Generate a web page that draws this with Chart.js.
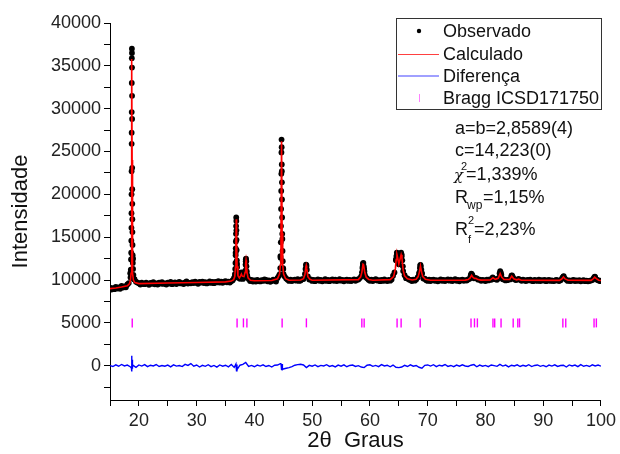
<!DOCTYPE html>
<html>
<head>
<meta charset="utf-8">
<script src="https://cdn.jsdelivr.net/npm/chart.js@4.4.1/dist/chart.umd.min.js"></script>
<style>
  html, body { margin: 0; padding: 0; background: #fff; }
  #wrap { width: 620px; height: 454px; }
</style>
</head>
<body>
<div id="wrap"><canvas id="chart" width="620" height="454"></canvas></div>
<script>
const obsStart = 15, obsStep = 0.25;
const obsCounts = [
  9120, 8890, 9060, 8930, 9210, 9010, 9150, 8980, 9330, 9120, 9260, 9150, 9480, 9650, 10800, 27200, 12500, 10100, 9800, 9700,
  9640, 9480, 9700, 9530, 9520, 9710, 9590, 9450, 9680, 9560, 9750, 9500, 9610, 9470, 9690, 9580, 9740, 9550, 9620, 9480,
  9700, 9590, 9780, 9520, 9610, 9730, 9540, 9690, 9780, 9600, 9650, 9530, 9720, 9850, 9590, 9660, 9620, 9760, 9650, 9800,
  9680, 9560, 9790, 9700, 9810, 9650, 9740, 9600, 9700, 9830, 9660, 9780, 9640, 9790, 9720, 9860, 9700, 9820, 9680, 9800,
  9880, 9730, 9810, 9700, 9850, 9990, 10250, 13200, 11870, 10260, 10150, 10880, 10130, 10290, 12190, 10530, 10120, 9880, 10010, 9830,
  9960, 9820, 10030, 9870, 9840, 9990, 9900, 10080, 10010, 9850, 9960, 9790, 9880, 10050, 9940, 9820, 10250, 10500, 12800, 22700,
  11300, 10400, 10180, 10020, 9900, 10040, 9880, 9990, 10060, 9930, 10100, 9900, 9960, 10100, 10110, 10720, 11590, 10420, 10050, 10080,
  9900, 10030, 9870, 9990, 10080, 9920, 10010, 9860, 9940, 10090, 9900, 10020, 9870, 9980, 10070, 9910, 10040, 9890, 9960, 10100,
  9930, 10020, 9850, 9990, 10060, 9900, 10010, 9880, 9970, 10080, 9920, 10040, 10060, 10230, 10450, 11600, 11300, 10350, 10200, 10030,
  9920, 10050, 9890, 10010, 10090, 9940, 9980, 9870, 10020, 9900, 10070, 9950, 9880, 10010, 9930, 10060, 10510, 10880, 12420, 12810,
  11840, 12500, 12790, 11050, 10560, 10220, 10190, 10060, 10010, 9880, 10040, 9930, 10060, 10300, 10680, 11780, 10760, 10180, 10150, 9990,
  9900, 10040, 9880, 10010, 10060, 9910, 9990, 9860, 9950, 10080, 9920, 10030, 9890, 10000, 10070, 9930, 10040, 9880, 9970, 10090,
  9920, 10020, 9860, 9990, 10050, 9910, 10000, 9940, 10070, 10160, 10560, 10480, 10200, 10240, 10180, 10040, 10060, 9920, 10010, 9950,
  9890, 10040, 9960, 10080, 10030, 10300, 10120, 10080, 10020, 10220, 10700, 10620, 10100, 10040, 9960, 9990, 10060, 10070, 10420, 10290,
  10090, 10000, 10050, 10120, 10020, 9910, 10040, 9960, 9880, 10010, 9950, 10050, 9930, 9870, 10020, 9960, 9900, 10040, 9890, 9980,
  9940, 10010, 9870, 9960, 10030, 9900, 9950, 9880, 9920, 10020, 9960, 9890, 9990, 10180, 10400, 10170, 10020, 9900, 9960, 9890,
  9950, 10030, 9880, 9960, 9910, 9990, 9860, 9940, 10000, 9870, 9930, 9850, 9900, 9960, 10000, 10230, 10300, 10050, 9980, 9880,
  9920
];

// extra observed points along the peak flanks
const peakTheta = [
  18.55, 18.60, 18.64, 18.67, 18.69, 18.71, 18.72, 18.73, 18.74, 18.75, 18.76, 18.77, 18.78, 18.79, 18.80,
  18.81, 18.82, 18.83, 18.84, 18.85, 18.86, 18.87, 18.88, 18.90, 18.92, 18.95, 18.99, 19.05, 19.12,
  36.55, 36.62, 36.68, 36.72, 36.75, 36.77, 36.79, 36.81, 36.83, 36.85, 36.87, 36.89, 36.91, 36.93, 36.96, 37.00, 37.06, 37.12,
  37.65, 37.80, 37.90, 38.35, 38.42, 38.47, 38.51, 38.55, 38.59, 38.63, 38.68, 38.75,
  44.40, 44.48, 44.53, 44.57, 44.60, 44.62, 44.64, 44.66, 44.68, 44.70, 44.72, 44.74, 44.76, 44.78, 44.80,
  44.82, 44.84, 44.87, 44.91, 44.96, 45.05,
  48.85, 48.93, 49.00, 49.08,
  58.62, 58.70, 58.78, 58.86, 58.94, 59.05, 59.12,
  64.50, 64.58, 64.66, 64.74, 64.85, 64.95, 65.10, 65.22, 65.32, 65.40, 65.48, 65.60, 65.70,
  68.55, 68.65, 68.72, 68.80, 68.90, 69.00,
  77.45, 77.55, 77.65, 77.75, 82.45, 82.55, 82.65, 84.50, 84.60, 84.70, 93.40, 93.55, 98.85, 98.95
];
const peakCounts = [
  10300, 11200, 12400, 13200, 14600, 16100, 17800, 20000, 22700, 25900, 29600, 33000, 35900, 37000, 36500,
  34800, 31500, 28800, 23100, 20600, 18900, 17100, 15600, 14100, 12900, 12000, 11300, 10600, 10100,
  10300, 10700, 11300, 12000, 12900, 13700, 14500, 15400, 16300, 17300, 16900, 15800, 14700, 13500, 12300, 11500, 10900, 10500,
  10500, 10800, 10600, 10500, 11100, 11800, 12400, 12500, 12200, 11600, 11000, 10500,
  10700, 11400, 12600, 14400, 16300, 18300, 20400, 22400, 24900, 26400, 25500, 23500, 21400, 19400, 17300,
  15400, 14800, 13400, 12200, 11400, 10700,
  11300, 11800, 11750, 11200,
  10900, 11400, 11900, 12000, 11600, 11000, 10600,
  12300, 12800, 13200, 13100, 12500, 12100, 12200, 12700, 13100, 13200, 13000, 12300, 11600,
  10900, 11400, 11700, 11600, 11200, 10800,
  10550, 10750, 10700, 10500, 10800, 11050, 10900, 10500, 10550, 10400, 10350, 10450, 10350, 10400
];

// calculated profile (red line)
const calcTheta = [
  15, 16, 17, 18, 18.4, 18.55, 18.65, 18.7, 18.74, 18.77, 18.8, 18.83, 18.86, 18.9, 18.95, 19.05, 19.3,
  20, 25, 30, 35,
  36, 36.4, 36.6, 36.72, 36.8, 36.86, 36.92, 37.0, 37.15, 37.4, 37.6, 37.75, 37.9, 38.2, 38.38, 38.48, 38.55, 38.62, 38.72, 38.9, 39.3,
  40, 43, 44, 44.35, 44.5, 44.6, 44.7, 44.8, 44.9, 45.05, 45.4, 46,
  48, 48.5, 48.75, 48.9, 48.97, 49.05, 49.25, 49.6, 50,
  58, 58.4, 58.6, 58.8, 58.9, 59.1, 59.35, 59.8, 60.5,
  63.5, 64.1, 64.4, 64.55, 64.68, 64.8, 65.0, 65.2, 65.4, 65.55, 65.75, 66.0, 66.5, 67.3,
  68.0, 68.35, 68.55, 68.75, 68.95, 69.15, 69.6, 70.5,
  76.5, 77.0, 77.35, 77.6, 77.85, 78.1, 78.35, 78.6, 79.2,
  80.8, 81.3, 81.7, 82.2, 82.55, 82.8, 83.2, 84.2, 84.55, 84.9, 85.4, 85.75, 86.2,
  92.8, 93.2, 93.5, 93.8, 94.3, 98.3, 98.7, 98.9, 99.2, 99.6, 100
];
const calcCounts = [
  9000, 9080, 9180, 9330, 9600, 10000, 10800, 12000, 16000, 24000, 35800, 24000, 16000, 12000, 10800, 10000, 9700,
  9580, 9650, 9720, 9790,
  9880, 10050, 10400, 11500, 14500, 17100, 14500, 11600, 10500, 10250, 10500, 10700, 10450, 10400, 10900, 11900, 12300, 11900, 10900, 10250, 9980,
  9920, 9940, 10150, 10700, 11800, 15500, 26200, 15500, 11800, 10700, 10150, 9980,
  10000, 10150, 10650, 11500, 11700, 11400, 10400, 10080, 9980,
  10050, 10380, 10900, 11850, 11800, 10900, 10330, 10060, 9980,
  10050, 10400, 11300, 12400, 12950, 12600, 11850, 12400, 12950, 12500, 11150, 10480, 10150, 10000,
  10100, 10400, 10900, 11650, 10900, 10400, 10080, 9970,
  9990, 10060, 10250, 10550, 10300, 10180, 10210, 10100, 9990,
  10000, 10260, 10080, 10200, 10750, 10350, 10060, 10070, 10450, 10150, 10030, 10100, 9980,
  9960, 10120, 10360, 10130, 9970, 9960, 10180, 10330, 10160, 9980, 9950
];

// difference (obs - calc) on a 0.5 deg grid, plus the spikes at the strong peaks
const diffStart = 15, diffStep = 0.5;
const diffCounts = [
  20, -90, 110, -60, 150, -30, 80, -120, 40, -180,
  90, -40, 130, -110, 60, -20, 140, -90, 30, -60,
  70, -130, 100, -40, 20, -100, 160, 40, 250, -60,
  80, -150, 50, -70, 120, -110, 30, -160, 90, -50,
  60, -130, 140, -200, -450, 60, 150, 380, -80, 40,
  -120, 70, -40, 110, -90, 30, -150, 60, 80, 250,
  -380, -300, -220, -100, 60, 130, 170, 90, -220, 40,
  -60, 90, -110, 40, -30, 120, -80, 20, -140, 70,
  -50, 100, -120, 30, 80, -90, 10, -150, -220, 60,
  110, -70, 40, -100, 130, -30, 60, -120, 80, -180,
  -220, -150, 40, -90, 110, -60, 30, -180, -280, 50,
  90, -40, 120, -100, 60, -20, 140, -80, 30, -110,
  70, -60, 100, -30, -90, 60, 130, -120, 80, -50,
  40, -110, 90, 10, -70, 150, -40, 80, -130, 60,
  -20, 110, -90, 50, -60, 120, -100, 30, 90, -70,
  40, -120, 80, -40, 110, -80, 20, 60, -150, 90,
  -30, 70, -110, 130, -60, 40, -90, 100, -20, 80,
  -50
];
const diffSpikeTheta = [18.70, 18.74, 18.77, 18.80, 18.83, 18.86, 18.92, 36.80, 36.90, 36.98, 44.60, 44.70, 44.78, 44.85];
const diffSpikeCounts = [-250, 600, 1170, -660, 700, -350, 150, 200, -600, 150, 280, -500, 200, -450];

// Bragg reflections (ICSD 171750)
const braggTheta = [18.85, 37.0, 38.1, 38.7, 44.8, 49.0, 58.6, 59.0, 64.7, 65.4, 68.7, 77.5, 78.1, 78.6,
  81.3, 81.6, 82.7, 84.8, 85.6, 85.9, 93.4, 93.9, 98.8, 99.2];
const braggLevel = 5000;

const seriesNames = ['Observado', 'Calculado', 'Diferença', 'Bragg ICSD171750'];
const fitNotes = ['a=b=2,8589(4)', 'c=14,223(0)', '=1,339%', '=1,15%', '=2,23%'];

// axis ticks: every 2500 on y (labels every 5000), every 5 on x (labels every 10)
const yTickValues = [-2500, 0, 2500, 5000, 7500, 10000, 12500, 15000, 17500, 20000,
  22500, 25000, 27500, 30000, 32500, 35000, 37500, 40000];
const xTickValues = [15, 20, 25, 30, 35, 40, 45, 50, 55, 60, 65, 70, 75, 80, 85, 90, 95, 100];

const FONT = '"Liberation Sans", Arial, sans-serif';

function gridPoints(start, step, values) {
  return values.map((y, i) => ({ x: +(start + i * step).toFixed(2), y }));
}
function pairPoints(xs, ys) {
  return xs.map((x, i) => ({ x, y: ys[i] }));
}
const byX = (a, b) => a.x - b.x;

const obsData = gridPoints(obsStart, obsStep, obsCounts).concat(pairPoints(peakTheta, peakCounts));
const calcData = pairPoints(calcTheta, calcCounts);
const diffData = gridPoints(diffStart, diffStep, diffCounts).concat(pairPoints(diffSpikeTheta, diffSpikeCounts)).sort(byX);
const braggData = braggTheta.map(x => ({ x, y: braggLevel }));

// legend box + refinement notes, drawn inside the plot
const notesPlugin = {
  id: 'notes',
  afterDraw(chart) {
    const ctx = chart.ctx;
    ctx.save();
    ctx.strokeStyle = '#333';
    ctx.lineWidth = 1;
    ctx.strokeRect(396.5, 18.5, 205, 91);

    const rows = [31, 54, 76, 98];
    // Observado: dot
    ctx.fillStyle = '#000';
    ctx.beginPath(); ctx.arc(419, rows[0], 2.2, 0, Math.PI * 2); ctx.fill();
    // Calculado: red line
    ctx.strokeStyle = '#ff4040'; ctx.lineWidth = 1;
    ctx.beginPath(); ctx.moveTo(398, rows[1] + 0.5); ctx.lineTo(439, rows[1] + 0.5); ctx.stroke();
    // Diferença: blue line
    ctx.strokeStyle = '#8080ff'; ctx.lineWidth = 1.5;
    ctx.beginPath(); ctx.moveTo(398, rows[2]); ctx.lineTo(439, rows[2]); ctx.stroke();
    // Bragg: tick
    ctx.strokeStyle = '#ff80ff'; ctx.lineWidth = 1;
    ctx.beginPath(); ctx.moveTo(419.5, rows[3] - 4); ctx.lineTo(419.5, rows[3] + 4); ctx.stroke();

    ctx.fillStyle = '#111';
    ctx.font = '18px ' + FONT;
    ctx.textBaseline = 'middle';
    ctx.textAlign = 'left';
    seriesNames.forEach((name, i) => ctx.fillText(name, 443, rows[i] + 1));

    ctx.textBaseline = 'alphabetic';
    ctx.fillText(fitNotes[0], 455, 134);
    ctx.fillText(fitNotes[1], 455, 156);
    // chi^2
    ctx.font = 'italic 15px "DejaVu Serif", serif';
    ctx.fillText('χ', 454, 180);
    ctx.font = '11px ' + FONT;
    ctx.fillText('2', 461, 170);
    ctx.font = '18px ' + FONT;
    ctx.fillText(fitNotes[2], 466, 180);
    // R_wp
    ctx.fillText('R', 455, 203);
    ctx.fillText(fitNotes[3], 483, 203);
    ctx.font = '12px ' + FONT;
    ctx.fillText('wp', 467, 209);
    // R_f^2
    ctx.font = '18px ' + FONT;
    ctx.fillText('R', 455, 235);
    ctx.fillText(fitNotes[4], 474, 235);
    ctx.font = '11px ' + FONT;
    ctx.fillText('2', 468, 224);
    ctx.fillText('f', 468, 243);
    ctx.restore();
  }
};

const tickGrid = {
  display: true,
  drawOnChartArea: false,
  drawTicks: true,
  tickLength: 6,
  tickColor: '#000',
  tickWidth: 1
};

new Chart(document.getElementById('chart'), {
  type: 'scatter',
  data: {
    datasets: [
      {
        label: seriesNames[1],
        data: calcData,
        showLine: true,
        borderColor: '#ff0000',
        borderWidth: 1.6,
        pointRadius: 0,
        order: 0
      },
      {
        label: seriesNames[0],
        data: obsData,
        pointRadius: 2.9,
        pointBorderWidth: 0,
        backgroundColor: '#000',
        borderColor: '#000',
        order: 1
      },
      {
        label: seriesNames[2],
        data: diffData,
        showLine: true,
        borderColor: '#0000ff',
        borderWidth: 1.4,
        pointRadius: 0,
        order: 2
      },
      {
        label: seriesNames[3],
        data: braggData,
        pointStyle: 'line',
        rotation: 90,
        pointRadius: 4.5,
        borderColor: '#ff00ff',
        borderWidth: 1.4,
        order: 3
      }
    ]
  },
  options: {
    responsive: false,
    animation: false,
    events: [],
    layout: { padding: { left: 0, right: 17, top: 23, bottom: 0 } },
    plugins: {
      legend: { display: false },
      tooltip: { enabled: false }
    },
    scales: {
      x: {
        type: 'linear',
        min: 15,
        max: 100,
        grid: tickGrid,
        border: { display: true, color: '#000', width: 1 },
        afterBuildTicks: s => { s.ticks = xTickValues.map(value => ({ value })); },
        ticks: {
          autoSkip: false,
          maxRotation: 0,
          padding: 4,
          color: '#222',
          font: { family: FONT, size: 18 },
          callback: v => (v % 10 === 0 ? String(v) : '')
        },
        title: {
          display: true,
          text: '2θ  Graus',
          color: '#111',
          font: { family: FONT, size: 22 },
          padding: { top: 0, bottom: 0 }
        },
        afterFit: s => { s.height = 54; }
      },
      y: {
        type: 'linear',
        min: -4000,
        max: 40000,
        grid: tickGrid,
        border: { display: true, color: '#000', width: 1 },
        afterBuildTicks: s => { s.ticks = yTickValues.map(value => ({ value })); },
        ticks: {
          autoSkip: false,
          padding: 3,
          color: '#222',
          font: { family: FONT, size: 18 },
          callback: v => (v % 5000 === 0 ? String(v) : '')
        },
        title: {
          display: true,
          text: 'Intensidade',
          color: '#111',
          font: { family: FONT, size: 22 },
          padding: { top: 8, bottom: 0 }
        },
        afterFit: s => { s.width = 110; }
      }
    }
  },
  plugins: [notesPlugin]
});
</script>
</body>
</html>
